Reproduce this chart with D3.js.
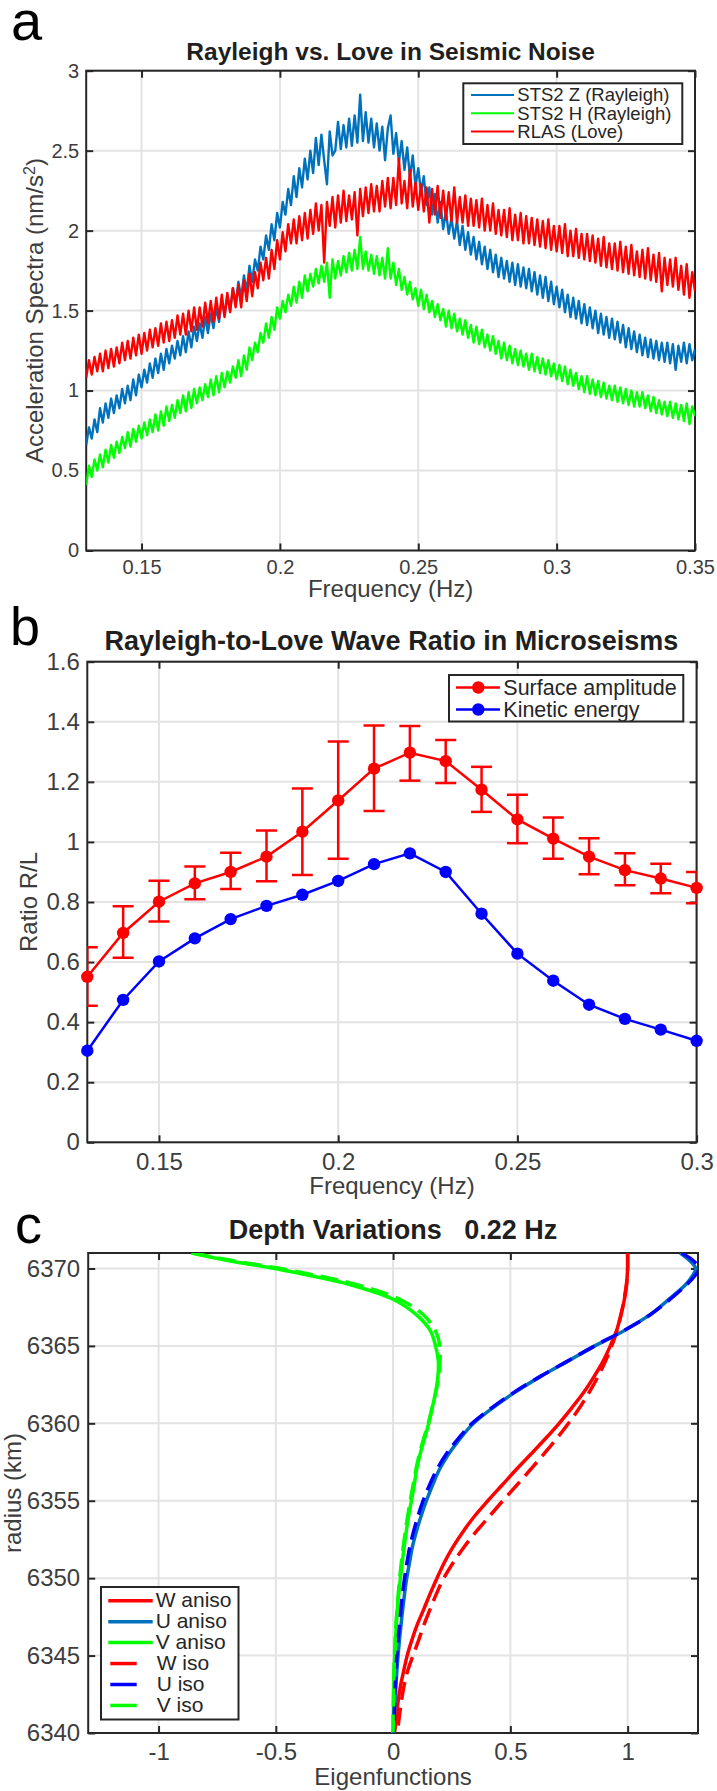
<!DOCTYPE html>
<html>
<head>
<meta charset="utf-8">
<script src="https://cdn.jsdelivr.net/npm/d3@7"></script>
<style>
  body { margin: 0; background: #fff; }
  svg { display: block; background: #fff; }
</style>
</head>
<body>
<svg id="chart" width="717" height="1791"></svg>
<script>
// ---------------- DATA ----------------
// Panel a: acceleration spectra (nm/s^2), sampled every 0.001 Hz from 0.13 Hz
const freqStartA = 0.13, freqStepA = 0.001;
const stsZ = [
  0.66,0.77,0.70,0.82,0.74, 0.89,0.80,0.92,0.83,0.95, 0.86,0.97,0.89,1.01,0.92, 1.03,0.94,1.07,0.97,1.10,
  1.02,1.13,1.05,1.17,1.08, 1.20,1.11,1.23,1.13,1.26, 1.17,1.28,1.20,1.31,1.22, 1.34,1.24,1.37,1.27,1.40,
  1.31,1.42,1.33,1.46,1.36, 1.48,1.39,1.52,1.43,1.57, 1.47,1.59,1.50,1.64,1.54, 1.68,1.58,1.72,1.62,1.78,
  1.68,1.82,1.75,1.90,1.82, 1.97,1.88,2.04,1.94,2.11, 2.02,2.18,2.10,2.26,2.16, 2.34,2.21,2.39,2.27,2.45,
  2.32,2.50,2.36,2.58,2.41, 2.60,2.44,2.29,2.62,2.47, 2.50,2.68,2.51,2.66,2.52, 2.70,2.53,2.72,2.55,2.85,
  2.56,2.74,2.55,2.70,2.52, 2.67,2.50,2.65,2.44,2.64, 2.72,2.48,2.61,2.43,2.56, 2.38,2.52,2.33,2.47,2.28,
  2.39,2.24,2.34,2.16,2.27, 2.10,2.23,2.05,2.18,2.01, 2.12,1.98,2.08,1.95,2.06, 1.91,2.03,1.88,1.99,1.85,
  1.96,1.82,1.93,1.79,1.90, 1.76,1.88,1.74,1.85,1.71, 1.83,1.70,1.81,1.68,1.80, 1.66,1.79,1.65,1.77,1.64,
  1.76,1.62,1.74,1.60,1.72, 1.58,1.71,1.56,1.68,1.54, 1.65,1.52,1.63,1.49,1.60, 1.46,1.58,1.45,1.56,1.42,
  1.54,1.41,1.52,1.39,1.50, 1.36,1.48,1.35,1.46,1.33, 1.45,1.32,1.43,1.30,1.41, 1.27,1.39,1.26,1.37,1.24,
  1.35,1.22,1.33,1.21,1.32, 1.20,1.31,1.19,1.30,1.18, 1.30,1.17,1.29,1.13,1.28, 1.18,1.30,1.17,1.29,1.19,
  1.26
];
const stsH = [
  0.41,0.53,0.46,0.57,0.50, 0.60,0.52,0.63,0.55,0.66, 0.58,0.68,0.61,0.71,0.64, 0.74,0.65,0.76,0.68,0.78,
  0.70,0.80,0.72,0.82,0.74, 0.85,0.75,0.87,0.78,0.90, 0.81,0.91,0.83,0.94,0.86, 0.97,0.87,0.99,0.89,1.01,
  0.92,1.02,0.94,1.04,0.96, 1.07,0.97,1.09,0.99,1.11, 1.02,1.12,1.05,1.15,1.08, 1.19,1.09,1.22,1.13,1.27,
  1.19,1.30,1.24,1.36,1.30, 1.42,1.33,1.46,1.38,1.52, 1.45,1.56,1.49,1.60,1.53, 1.65,1.55,1.68,1.58,1.72,
  1.62,1.73,1.65,1.76,1.67, 1.78,1.68,1.80,1.58,1.82, 1.70,1.81,1.72,1.84,1.74, 1.86,1.75,1.88,1.76,1.96,
  1.76,1.87,1.75,1.85,1.73, 1.84,1.72,1.83,1.70,1.89, 1.70,1.80,1.66,1.76,1.63, 1.71,1.60,1.68,1.57,1.64,
  1.53,1.63,1.51,1.60,1.49, 1.56,1.46,1.54,1.44,1.51, 1.40,1.50,1.39,1.48,1.37, 1.45,1.35,1.44,1.33,1.41,
  1.30,1.40,1.29,1.38,1.27, 1.35,1.25,1.34,1.23,1.31, 1.20,1.30,1.19,1.28,1.17, 1.26,1.16,1.25,1.15,1.23,
  1.13,1.23,1.12,1.21,1.11, 1.20,1.10,1.19,1.09,1.17, 1.07,1.16,1.06,1.15,1.04, 1.13,1.03,1.11,1.01,1.09,
  0.99,1.09,0.98,1.07,0.97, 1.06,0.96,1.05,0.95,1.03, 0.94,1.03,0.93,1.02,0.92, 1.01,0.91,1.00,0.90,0.99,
  0.90,0.99,0.89,0.97,0.87, 0.96,0.86,0.94,0.85,0.93, 0.84,0.93,0.83,0.92,0.82, 0.91,0.81,0.92,0.79,0.90,
  0.84
];
const rlas = [
  1.08,1.19,1.10,1.21,1.12, 1.23,1.12,1.25,1.14,1.26, 1.15,1.27,1.17,1.30,1.19, 1.31,1.20,1.33,1.22,1.35,
  1.23,1.36,1.25,1.38,1.27, 1.39,1.28,1.42,1.30,1.43, 1.31,1.44,1.33,1.47,1.35, 1.48,1.35,1.50,1.37,1.52,
  1.38,1.52,1.40,1.55,1.42, 1.56,1.43,1.58,1.45,1.60, 1.46,1.61,1.49,1.64,1.52, 1.66,1.52,1.69,1.56,1.73,
  1.59,1.74,1.64,1.80,1.69, 1.83,1.70,1.88,1.76,1.94, 1.82,1.99,1.87,2.04,1.92, 2.07,1.92,2.09,1.94,2.11,
  1.95,2.13,1.98,2.17,2.00, 2.16,1.80,2.18,2.03,2.21, 2.02,2.22,2.05,2.25,2.06, 2.22,2.07,2.24,1.97,2.26,
  2.09,2.27,2.11,2.29,2.12, 2.28,2.12,2.31,2.15,2.33, 2.14,2.33,2.16,2.45,2.17, 2.31,2.14,2.38,2.15,2.30,
  2.13,2.29,2.12,2.27,2.05, 2.26,2.10,2.28,2.08,2.25, 2.07,2.24,2.06,2.27,2.05, 2.21,2.05,2.22,2.03,2.20,
  2.03,2.19,2.02,2.20,2.00, 2.16,2.00,2.17,1.98,2.13, 1.97,2.13,1.96,2.14,1.94, 2.10,1.94,2.11,1.92,2.09,
  1.92,2.08,1.91,2.07,1.90, 2.06,1.89,2.07,1.88,2.03, 1.87,2.03,1.86,2.04,1.84, 2.00,1.84,2.01,1.83,1.98,
  1.82,1.98,1.81,1.97,1.80, 1.95,1.78,1.96,1.77,1.92, 1.76,1.92,1.75,1.93,1.74, 1.90,1.73,1.91,1.72,1.87,
  1.71,1.88,1.70,1.89,1.69, 1.85,1.68,1.86,1.62,1.83, 1.66,1.82,1.65,1.83,1.63, 1.78,1.60,1.79,1.58,1.74,
  1.62
];
const legendA = ["STS2 Z (Rayleigh)", "STS2 H (Rayleigh)", "RLAS (Love)"];
const xTicksA = [0.15, 0.2, 0.25, 0.3, 0.35];
const yTicksA = [0, 0.5, 1, 1.5, 2, 2.5, 3];

// Panel b: Rayleigh-to-Love ratio
const freqB = [0.13,0.14,0.15,0.16,0.17,0.18,0.19,0.20,0.21,0.22,0.23,0.24,0.25,0.26,0.27,0.28,0.29,0.30];
const ampRatio = [0.551,0.697,0.801,0.862,0.900,0.951,1.034,1.138,1.244,1.297,1.269,1.174,1.075,1.011,0.951,0.906,0.878,0.847];
const ampHigh  = [0.649,0.786,0.871,0.918,0.964,1.038,1.178,1.334,1.388,1.386,1.339,1.250,1.157,1.081,1.012,0.962,0.927,0.900];
const ampLow   = [0.455,0.614,0.735,0.809,0.843,0.869,0.890,0.944,1.103,1.204,1.196,1.100,0.996,0.944,0.892,0.856,0.829,0.796];
const kinRatio = [0.305,0.474,0.602,0.679,0.743,0.787,0.824,0.870,0.926,0.962,0.900,0.761,0.628,0.538,0.458,0.411,0.375,0.338];
const legendB = ["Surface amplitude", "Kinetic energy"];
const xTicksB = [0.15, 0.2, 0.25, 0.3];
const yTicksB = [0, 0.2, 0.4, 0.6, 0.8, 1, 1.2, 1.4, 1.6];

// Panel c: eigenfunctions vs radius (km)
const radiusC = [6371,6370.5,6370,6369.5,6369,6368,6367,6366,6365,6364,6363,6362,6361,6360,6359,6358,6357,6356,6355,6354,6353,6352,6351,6350,6349,6348,6347,6346,6345,6344,6343,6342,6341,6340];
const wAniso = [1.0,1.0,1.0,0.998,0.996,0.986,0.971,0.953,0.926,0.895,0.856,0.813,0.762,0.708,0.649,0.587,0.524,0.464,0.404,0.347,0.298,0.255,0.218,0.187,0.158,0.131,0.103,0.080,0.060,0.045,0.031,0.021,0.014,0.006];
const uAniso = [1.224,1.265,1.290,1.275,1.250,1.175,1.094,0.986,0.860,0.743,0.626,0.519,0.425,0.343,0.285,0.236,0.197,0.168,0.142,0.119,0.099,0.082,0.070,0.058,0.049,0.041,0.034,0.027,0.021,0.016,0.012,0.008,0.005,0.002];
const vAniso = [-0.86,-0.70,-0.505,-0.34,-0.193,0.002,0.100,0.158,0.181,0.193,0.191,0.181,0.167,0.152,0.134,0.115,0.100,0.090,0.078,0.066,0.056,0.047,0.039,0.031,0.024,0.018,0.014,0.010,0.007,0.004,0.003,0.002,0.001,0.0];
const wIso = [1.0,1.0,1.0,0.998,0.995,0.985,0.972,0.955,0.932,0.905,0.873,0.836,0.795,0.748,0.697,0.642,0.585,0.527,0.468,0.411,0.354,0.302,0.256,0.216,0.185,0.158,0.132,0.109,0.085,0.062,0.046,0.035,0.026,0.018];
const uIso = [1.230,1.280,1.305,1.285,1.255,1.180,1.095,0.985,0.860,0.742,0.624,0.515,0.420,0.337,0.277,0.226,0.186,0.155,0.128,0.106,0.087,0.071,0.059,0.049,0.040,0.033,0.027,0.021,0.016,0.012,0.009,0.006,0.004,0.002];
const vIso = [-0.855,-0.68,-0.48,-0.31,-0.165,0.030,0.130,0.180,0.200,0.200,0.195,0.182,0.166,0.150,0.130,0.112,0.097,0.085,0.073,0.062,0.052,0.043,0.035,0.028,0.022,0.017,0.012,0.009,0.006,0.004,0.002,0.001,0.0,0.0];
const legendC = ["W aniso", "U aniso", "V aniso", "W iso", "U iso", "V iso"];
const xTicksC = [-1, -0.5, 0, 0.5, 1];
const yTicksC = [6340, 6345, 6350, 6355, 6360, 6365, 6370];

// ---------------- STYLE ----------------
const FONT = '"Liberation Sans", Arial, Helvetica, sans-serif';
const AX = "#262626", GRID = "#e3e3e3", TXT = "#3d3d3d", TITLE = "#1f1f1f";
const BLUE_M = "#0072BD", GREEN = "#00FF00", RED = "#FF0000", BLUE = "#0000FF";

const svg = d3.select("#chart");

function drawFrame(g, x, y, xt, yt, fs, padX, padY) {
  const [xl, xr] = x.range(), [yb, ytop] = y.range();
  g.append("g").selectAll("line").data(xt).join("line")
    .attr("x1", d => x(d)).attr("x2", d => x(d)).attr("y1", yb).attr("y2", ytop)
    .attr("stroke", GRID).attr("stroke-width", 2);
  g.append("g").selectAll("line").data(yt).join("line")
    .attr("y1", d => y(d)).attr("y2", d => y(d)).attr("x1", xl).attr("x2", xr)
    .attr("stroke", GRID).attr("stroke-width", 2);
  const style = s => {
    s.select(".domain").remove();
    s.selectAll(".tick line").attr("stroke", AX).attr("stroke-width", 2);
    s.selectAll("text").attr("fill", TXT).style("font-size", fs + "px").style("font-family", FONT);
  };
  const fmt = d => String(d);
  g.append("g").attr("transform", `translate(0,${yb})`)
    .call(d3.axisBottom(x).tickValues(xt).tickSizeInner(-7).tickSizeOuter(0).tickPadding(padX).tickFormat(fmt)).call(style);
  g.append("g").attr("transform", `translate(0,${ytop})`)
    .call(d3.axisTop(x).tickValues(xt).tickSizeInner(-7).tickSizeOuter(0).tickFormat("")).call(style);
  g.append("g").attr("transform", `translate(${xl},0)`)
    .call(d3.axisLeft(y).tickValues(yt).tickSizeInner(-7).tickSizeOuter(0).tickPadding(padY).tickFormat(fmt)).call(style);
  g.append("g").attr("transform", `translate(${xr},0)`)
    .call(d3.axisRight(y).tickValues(yt).tickSizeInner(-7).tickSizeOuter(0).tickFormat("")).call(style);
  g.append("rect").attr("x", xl).attr("y", ytop).attr("width", xr - xl).attr("height", yb - ytop)
    .attr("fill", "none").attr("stroke", AX).attr("stroke-width", 2);
}
function clip(id, x, y) {
  const [xl, xr] = x.range(), [yb, ytop] = y.range();
  svg.append("clipPath").attr("id", id).append("rect")
    .attr("x", xl).attr("y", ytop).attr("width", xr - xl).attr("height", yb - ytop);
  return `url(#${id})`;
}
function txt(g, s, x, y, size, opts = {}) {
  return g.append("text").attr("x", x).attr("y", y).text(s)
    .style("font-family", FONT).style("font-size", size + "px")
    .attr("fill", opts.fill || TXT).attr("text-anchor", opts.anchor || "start")
    .style("font-weight", opts.weight || "normal");
}

// ---------------- PANEL A ----------------
{
  const x = d3.scaleLinear().domain([0.13, 0.35]).range([86.2, 695]);
  const y = d3.scaleLinear().domain([0, 3]).range([550.5, 70.7]);
  const g = svg.append("g");
  drawFrame(g, x, y, xTicksA, yTicksA, 20, 9.3, 7);
  const cp = clip("clipA", x, y);
  const series = [
    { name: legendA[0], values: stsZ, color: BLUE_M },
    { name: legendA[1], values: stsH, color: GREEN },
    { name: legendA[2], values: rlas, color: RED }
  ];
  const line = d3.line().x((d, i) => x(freqStartA + i * freqStepA)).y(d => y(d));
  g.append("g").attr("clip-path", cp).selectAll("path").data(series).join("path")
    .attr("d", d => line(d.values)).attr("fill", "none").attr("stroke", d => d.color)
    .attr("stroke-width", 2.4).attr("stroke-linejoin", "round");
  txt(svg, "a", 11, 40, 56, { fill: "#000" });
  txt(svg, "Rayleigh vs. Love in Seismic Noise", (x.range()[0] + x.range()[1]) / 2, 60, 24.5, { anchor: "middle", weight: "bold", fill: TITLE });
  txt(svg, "Frequency (Hz)", (x.range()[0] + x.range()[1]) / 2, 597, 24, { anchor: "middle" });
  const yl = svg.append("text").attr("transform", `translate(42.5,${(y.range()[0] + y.range()[1]) / 2}) rotate(-90)`)
    .attr("text-anchor", "middle").attr("fill", TXT).style("font-family", FONT).style("font-size", "24px");
  yl.append("tspan").text("Acceleration Spectra (nm/s");
  yl.append("tspan").text("2").attr("baseline-shift", "super").style("font-size", "16px");
  yl.append("tspan").text(")");
  // legend
  const lg = svg.append("g");
  lg.append("rect").attr("x", 463.3).attr("y", 83.3).attr("width", 219).attr("height", 60.7)
    .attr("fill", "#fff").attr("stroke", AX).attr("stroke-width", 2);
  series.forEach((s, i) => {
    const yy = 95 + i * 18.3;
    lg.append("line").attr("x1", 471).attr("x2", 514).attr("y1", yy).attr("y2", yy)
      .attr("stroke", s.color).attr("stroke-width", 2);
    txt(lg, s.name, 517.3, yy + 6.3, 18.5, { fill: "#262626" });
  });
}

// ---------------- PANEL B ----------------
{
  const x = d3.scaleLinear().domain([0.13, 0.30]).range([87.3, 696.6]);
  const y = d3.scaleLinear().domain([0, 1.6]).range([1142.3, 661.7]);
  const g = svg.append("g");
  drawFrame(g, x, y, xTicksB, yTicksB, 24, 10.5, 7.5);
  const cp = clip("clipB", x, y);
  const rows = freqB.map((f, i) => ({ f, v: ampRatio[i], hi: ampHigh[i], lo: ampLow[i], k: kinRatio[i] }));
  const eb = g.append("g").attr("clip-path", cp).attr("stroke", RED).attr("stroke-width", 2.5);
  rows.forEach(r => {
    eb.append("line").attr("x1", x(r.f)).attr("x2", x(r.f)).attr("y1", y(r.lo)).attr("y2", y(r.hi));
    eb.append("line").attr("x1", x(r.f) - 10.5).attr("x2", x(r.f) + 10.5).attr("y1", y(r.lo)).attr("y2", y(r.lo));
    eb.append("line").attr("x1", x(r.f) - 10.5).attr("x2", x(r.f) + 10.5).attr("y1", y(r.hi)).attr("y2", y(r.hi));
  });
  const lineA = d3.line().x(d => x(d.f)).y(d => y(d.v));
  const lineK = d3.line().x(d => x(d.f)).y(d => y(d.k));
  g.append("path").attr("d", lineA(rows)).attr("fill", "none").attr("stroke", RED).attr("stroke-width", 2.5);
  g.append("g").selectAll("circle").data(rows).join("circle")
    .attr("cx", d => x(d.f)).attr("cy", d => y(d.v)).attr("r", 6.2).attr("fill", RED);
  g.append("path").attr("d", lineK(rows)).attr("fill", "none").attr("stroke", BLUE).attr("stroke-width", 2.5);
  g.append("g").selectAll("circle").data(rows).join("circle")
    .attr("cx", d => x(d.f)).attr("cy", d => y(d.k)).attr("r", 6.2).attr("fill", BLUE);
  txt(svg, "b", 10, 645, 54, { fill: "#000" });
  txt(svg, "Rayleigh-to-Love Wave Ratio in Microseisms", 391.4, 650, 27, { anchor: "middle", weight: "bold", fill: TITLE });
  txt(svg, "Frequency (Hz)", (x.range()[0] + x.range()[1]) / 2, 1193.5, 24, { anchor: "middle" });
  svg.append("text").attr("transform", `translate(37,${(y.range()[0] + y.range()[1]) / 2}) rotate(-90)`)
    .attr("text-anchor", "middle").attr("fill", TXT).style("font-family", FONT).style("font-size", "24px")
    .text("Ratio R/L");
  const lg = svg.append("g");
  lg.append("rect").attr("x", 449).attr("y", 675).attr("width", 234.3).attr("height", 46.5)
    .attr("fill", "#fff").attr("stroke", AX).attr("stroke-width", 2);
  [RED, BLUE].forEach((c, i) => {
    const yy = 687.5 + i * 22;
    lg.append("line").attr("x1", 456).attr("x2", 500).attr("y1", yy).attr("y2", yy).attr("stroke", c).attr("stroke-width", 2.5);
    lg.append("circle").attr("cx", 478.3).attr("cy", yy).attr("r", 6.2).attr("fill", c);
    txt(lg, legendB[i], 503.3, yy + 7.5, 21.5, { fill: "#262626" });
  });
}

// ---------------- PANEL C ----------------
{
  const x = d3.scaleLinear().domain([-1.3, 1.3]).range([88.2, 698]);
  const y = d3.scaleLinear().domain([6340, 6371]).range([1733, 1253]);
  const g = svg.append("g");
  drawFrame(g, x, y, xTicksC, yTicksC, 24, 10, 8);
  const cp = clip("clipC", x, y);
  const series = [
    { name: legendC[0], values: wAniso, color: RED, dash: null },
    { name: legendC[1], values: uAniso, color: BLUE_M, dash: null },
    { name: legendC[2], values: vAniso, color: GREEN, dash: null },
    { name: legendC[3], values: wIso, color: RED, dash: "18,8" },
    { name: legendC[4], values: uIso, color: BLUE, dash: "18,8" },
    { name: legendC[5], values: vIso, color: GREEN, dash: "18,8" }
  ];
  const line = d3.line().x(d => x(d[0])).y(d => y(d[1])).curve(d3.curveCatmullRom);
  g.append("g").attr("clip-path", cp).selectAll("path").data(series).join("path")
    .attr("d", s => line(s.values.map((v, i) => [v, radiusC[i]])))
    .attr("fill", "none").attr("stroke", s => s.color).attr("stroke-width", 3.5)
    .attr("stroke-dasharray", s => s.dash);
  txt(svg, "c", 15, 1243.3, 54, { fill: "#000" });
  txt(svg, "Depth Variations   0.22 Hz", 393, 1239, 27, { anchor: "middle", weight: "bold", fill: TITLE })
    .attr("xml:space", "preserve").style("white-space", "pre");
  txt(svg, "Eigenfunctions", (x.range()[0] + x.range()[1]) / 2, 1785, 24, { anchor: "middle" });
  svg.append("text").attr("transform", `translate(21,${(y.range()[0] + y.range()[1]) / 2}) rotate(-90)`)
    .attr("text-anchor", "middle").attr("fill", TXT).style("font-family", FONT).style("font-size", "24px")
    .text("radius (km)");
  const lg = svg.append("g");
  lg.append("rect").attr("x", 101).attr("y", 1587).attr("width", 137.5).attr("height", 132.5)
    .attr("fill", "#fff").attr("stroke", AX).attr("stroke-width", 2);
  series.forEach((s, i) => {
    const yy = 1600.7 + i * 20.95;
    if (s.dash) {
      lg.append("line").attr("x1", 110.3).attr("x2", 136.7).attr("y1", yy).attr("y2", yy).attr("stroke", s.color).attr("stroke-width", 3.5);
    } else {
      lg.append("line").attr("x1", 108.3).attr("x2", 152.7).attr("y1", yy).attr("y2", yy).attr("stroke", s.color).attr("stroke-width", 3.5);
    }
    txt(lg, s.name, s.dash ? 156.7 : 155.7, yy + 6.5, 21, { fill: "#262626" });
  });
}
</script>
</body>
</html>
